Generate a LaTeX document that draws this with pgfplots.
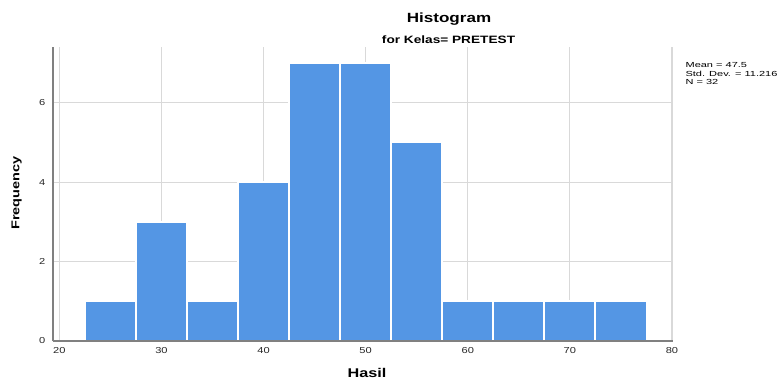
\documentclass[border=0pt]{standalone}
\usepackage{fontspec}
\setmainfont[FakeStretch=1.28]{Liberation Sans}
\newfontfamily\statsfont[FakeStretch=1.5]{Liberation Sans}
\usepackage{pgfplots}
\pgfplotsset{compat=1.18}
\definecolor{barblue}{RGB}{84,150,228}
\definecolor{gridgray}{RGB}{217,217,217}
\definecolor{axisgray}{RGB}{128,128,128}
\begin{document}
\begin{tikzpicture}
\useasboundingbox (0,0) rectangle (587.25pt,285pt);
\begin{axis}[
 at={(39.75pt,29.25pt)}, anchor=south west,
 scale only axis, width=465pt, height=220.3pt,
 xmin=19.38, xmax=80.1, ymin=0, ymax=7.4,
 xtick={20,30,...,80}, ytick={0,2,4,6},
 major tick length=0pt,
 axis x line*=bottom, axis y line*=left,
 axis line style={draw=axisgray, line width=1pt},
 grid=major, major grid style={draw=gridgray, line width=0.8pt},
 tick label style={font=\fontsize{6.5}{7}\selectfont, text=black!85},
 /pgf/number format/assume math mode=true,
 xticklabel style={inner sep=0pt, anchor=north, yshift=-4.5pt},
 yticklabel style={inner sep=0pt, anchor=east, xshift=-5.5pt},
 clip=false,
]
\addplot[ybar interval, fill=barblue, draw=white, line width=1.4pt] coordinates {
 (22.5,1) (27.5,3) (32.5,1) (37.5,4) (42.5,7) (47.5,7) (52.5,5)
 (57.5,1) (62.5,1) (67.5,1) (72.5,1) (77.5,0)
};
\draw[axisgray, line width=1pt] (rel axis cs:0,0) -- (rel axis cs:1,0);
\end{axis}
\node[anchor=base, font=\fontsize{10}{12}\selectfont\bfseries] at (336.75pt,268.1pt) {Histogram};
\node[anchor=base, font=\fontsize{8}{10}\selectfont\bfseries] at (336.4pt,252.75pt) {for Kelas= PRETEST};
\node[anchor=base, font=\fontsize{9.5}{11}\selectfont\bfseries] at (275.25pt,2.25pt) {Hasil};
\node[anchor=base, rotate=90, font=\fontsize{8.5}{10}\selectfont\bfseries] at (14.6pt,140.25pt) {Frequency};
\node[anchor=north west, inner sep=0pt, align=left, font=\statsfont\fontsize{5.5}{6.6}\selectfont] at (514pt,238.5pt) {Mean = 47.5\\Std. Dev. = 11.216\\N = 32};
\end{tikzpicture}
\end{document}
